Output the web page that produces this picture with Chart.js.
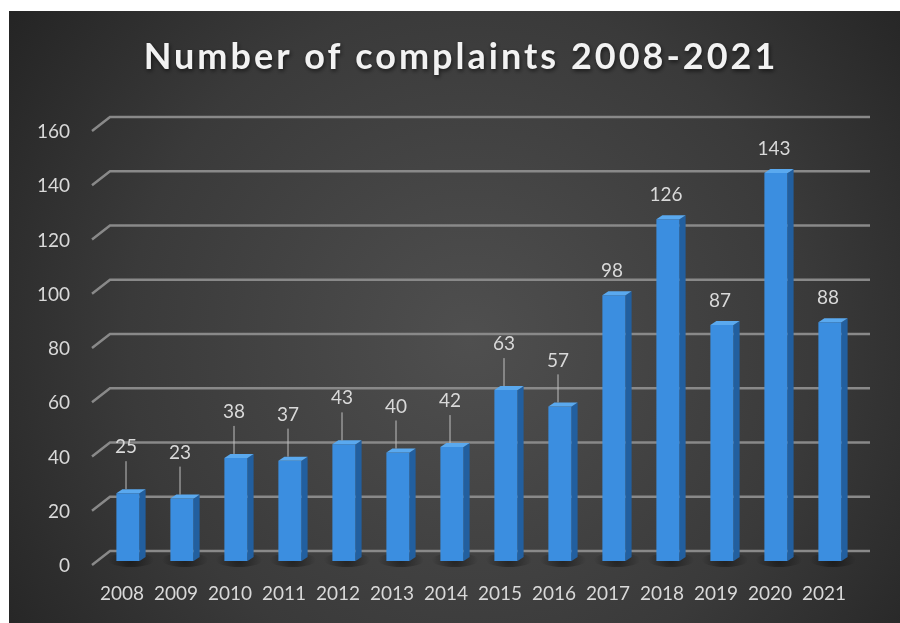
<!DOCTYPE html>
<html>
<head>
<meta charset="utf-8">
<title>Number of complaints 2008-2021</title>
<script src="https://cdn.jsdelivr.net/npm/chart.js@4.4.0/dist/chart.umd.min.js"></script>
<style>
  html, body { margin: 0; padding: 0; background: #ffffff; }
  #wrap { width: 900px; height: 623px; }
</style>
</head>
<body>
<div id="wrap"><canvas id="complaintsChart" width="900" height="623"></canvas></div>
<script>
// Chart data
const chartTitle = 'Number of complaints 2008-2021';
const years = ['2008', '2009', '2010', '2011', '2012', '2013', '2014', '2015', '2016', '2017', '2018', '2019', '2020', '2021'];
const complaints = [25, 23, 38, 37, 43, 40, 42, 63, 57, 98, 126, 87, 143, 88];
const yMin = 0;
const yMax = 160;
const yStep = 20;

const textColor = '#d9d9d9';
const fontFamily = 'Lato, "Open Sans", sans-serif';

// Dark panel with a soft radial light in the middle, plus the title
const panelPlugin = {
    id: 'panel',
    beforeDraw(chart) {
        const ctx = chart.ctx;
        ctx.save();
        const grad = ctx.createRadialGradient(470, 340, 0, 470, 340, 620);
        grad.addColorStop(0, '#4f4f4f');
        grad.addColorStop(0.55, '#3a3a3a');
        grad.addColorStop(1, '#1f1f1f');
        ctx.fillStyle = grad;
        ctx.fillRect(9, 11, chart.width - 9, chart.height - 11);

        // title with a small drop shadow
        ctx.font = 'bold 36px ' + fontFamily;
        if ('letterSpacing' in ctx) ctx.letterSpacing = '3px';
        ctx.textAlign = 'center';
        ctx.textBaseline = 'middle';
        ctx.shadowColor = 'rgba(0,0,0,0.6)';
        ctx.shadowBlur = 4;
        ctx.shadowOffsetX = 1;
        ctx.shadowOffsetY = 2;
        ctx.fillStyle = '#f2f2f2';
        ctx.fillText(chartTitle, 461, 57);
        ctx.restore();
    }
};

// Grid lines with the slanted "floor" end on the left, like a 3D wall
const wallGridPlugin = {
    id: 'wallGrid',
    beforeDatasetsDraw(chart) {
        const ctx = chart.ctx;
        const yScale = chart.scales.y;
        const area = chart.chartArea;
        ctx.save();
        ctx.strokeStyle = '#898989';
        ctx.lineWidth = 2.5;
        yScale.ticks.forEach(t => {
            const y = yScale.getPixelForValue(t.value);
            ctx.beginPath();
            ctx.moveTo(area.left - 9, y + 4);
            ctx.lineTo(area.left + 9, y - 10);
            ctx.lineTo(area.right + 13, y - 10);
            ctx.stroke();
        });
        // soft shadows under the bars
        const meta = chart.getDatasetMeta(0);
        meta.data.forEach(bar => {
            const g = ctx.createRadialGradient(bar.x + 3, bar.base - 1, 0, bar.x + 3, bar.base - 1, bar.width);
            g.addColorStop(0, 'rgba(0,0,0,0.45)');
            g.addColorStop(1, 'rgba(0,0,0,0)');
            ctx.fillStyle = g;
            ctx.beginPath();
            ctx.ellipse(bar.x + 3, bar.base - 1, bar.width, 7, 0, 0, Math.PI * 2);
            ctx.fill();
        });
        ctx.restore();
    }
};

// Side and top faces of each bar + value labels
const barFacesPlugin = {
    id: 'barFaces',
    afterDatasetsDraw(chart) {
        const ctx = chart.ctx;
        const meta = chart.getDatasetMeta(0);
        const dx = 6, dy = 4;
        ctx.save();
        meta.data.forEach((bar, i) => {
            const left = bar.x - bar.width / 2;
            const right = bar.x + bar.width / 2;
            const top = bar.y;
            const base = bar.base;

            // right side face
            ctx.fillStyle = '#225f9f';
            ctx.beginPath();
            ctx.moveTo(right, top);
            ctx.lineTo(right + dx, top - dy);
            ctx.lineTo(right + dx, base - dy);
            ctx.lineTo(right, base);
            ctx.closePath();
            ctx.fill();

            // top face
            ctx.fillStyle = '#5aa9ef';
            ctx.beginPath();
            ctx.moveTo(left, top);
            ctx.lineTo(left + dx, top - dy);
            ctx.lineTo(right + dx, top - dy);
            ctx.lineTo(right, top);
            ctx.closePath();
            ctx.fill();

            // value label, with a leader line for the shorter bars
            const value = complaints[i];
            const hasLeader = value < 70;
            const labelY = hasLeader ? top - 46 : top - 24;
            if (hasLeader) {
                ctx.strokeStyle = '#bfbfbf';
                ctx.lineWidth = 1;
                ctx.beginPath();
                ctx.moveTo(bar.x - 2, top - 4);
                ctx.lineTo(bar.x - 2, labelY + 14);
                ctx.stroke();
            }
            ctx.fillStyle = textColor;
            ctx.font = '19px ' + fontFamily;
            ctx.textAlign = 'center';
            ctx.textBaseline = 'middle';
            ctx.fillText(String(value), bar.x - 2, labelY);
        });
        ctx.restore();
    }
};

const ctx = document.getElementById('complaintsChart').getContext('2d');

const complaintsChart = new Chart(ctx, {
    type: 'bar',
    data: {
        labels: years,
        datasets: [{
            label: 'Complaints',
            data: complaints,
            backgroundColor: (c) => {
                const bar = c.element;
                if (!bar || bar.x === undefined) return '#3b8ee0';
                const g = c.chart.ctx.createLinearGradient(bar.x - bar.width / 2, 0, bar.x + bar.width / 2, 0);
                g.addColorStop(0, '#4a9ef0');
                g.addColorStop(0.6, '#3a8de0');
                g.addColorStop(1, '#2d78c8');
                return g;
            },
            borderWidth: 0,
            barPercentage: 0.43,
            categoryPercentage: 1
        }]
    },
    options: {
        responsive: false,
        animation: false,
        layout: {
            padding: { left: 0, right: 43, top: 127, bottom: 0 }
        },
        plugins: {
            legend: { display: false },
            tooltip: { enabled: false },
            title: { display: false }
        },
        scales: {
            x: {
                offset: true,
                grid: { display: false, drawTicks: false },
                border: { display: false },
                ticks: {
                    color: textColor,
                    font: { family: fontFamily, size: 19 },
                    padding: 21,
                    labelOffset: -6,
                    maxRotation: 0,
                    autoSkip: false
                },
                afterFit(scale) { scale.height = 62; }
            },
            y: {
                min: yMin,
                max: yMax,
                grid: { display: false, drawTicks: false },
                border: { display: false },
                ticks: {
                    stepSize: yStep,
                    color: textColor,
                    font: { family: fontFamily, size: 19 },
                    padding: 31,
                    labelOffset: 5
                },
                afterFit(scale) { scale.width = 101; }
            }
        }
    },
    plugins: [panelPlugin, wallGridPlugin, barFacesPlugin]
});
</script>
</body>
</html>
